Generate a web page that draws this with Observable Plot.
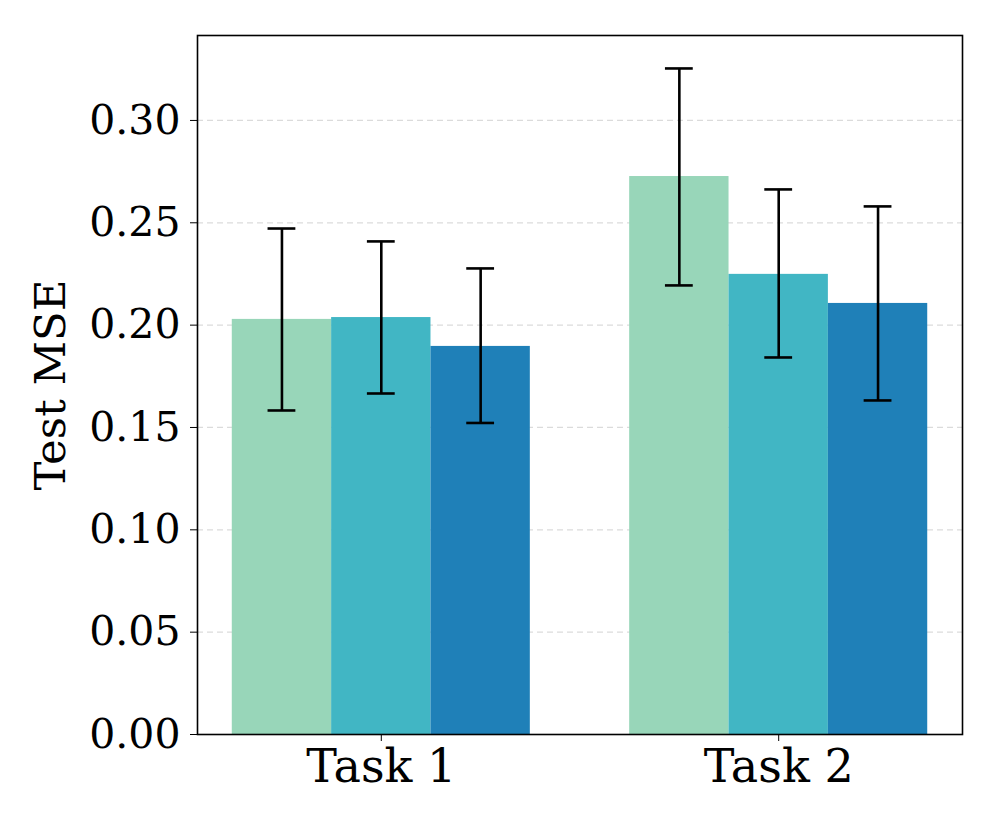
<!DOCTYPE html>
<html>
<head>
<meta charset="utf-8">
<script src="https://cdn.jsdelivr.net/npm/d3@7"></script>
<script src="https://cdn.jsdelivr.net/npm/@observablehq/plot@0.6"></script>
<style>
  html, body { margin: 0; padding: 0; background: white; }
  #chart svg { display: block; }
</style>
</head>
<body>
<div id="chart"></div>
<script>
const tasks = ["Task 1", "Task 2"];
const methods = ["Method A", "Method B", "Method C"];
const colors = ["#98d6b9", "#41b6c4", "#1f80b8"];
// mean test MSE per task (rows) and method (columns)
const means = [
  [0.2028, 0.2037, 0.1896],
  [0.2726, 0.2248, 0.2106]
];
// error bar lower / upper bounds
const lows = [
  [0.1583, 0.1666, 0.1522],
  [0.2194, 0.1842, 0.1632]
];
const highs = [
  [0.2472, 0.2409, 0.2277],
  [0.3254, 0.2663, 0.2580]
];
const yTicks = [0, 0.05, 0.10, 0.15, 0.20, 0.25, 0.30];

const barWidth = 0.25;
const capHalf = 0.035;
const rows = [];
tasks.forEach((t, ti) => methods.forEach((m, mi) => {
  rows.push({task: t, ti, method: m, mi, mean: means[ti][mi], lo: lows[ti][mi], hi: highs[ti][mi],
             xc: ti + (mi - 1) * barWidth});
}));

const chart = Plot.plot({
  width: 997,
  height: 830,
  marginLeft: 197,
  marginRight: 35,
  marginTop: 35,
  marginBottom: 96,
  style: {fontFamily: "DejaVu Serif", fontSize: "41px", background: "white", color: "black"},
  x: {domain: [-0.4625, 1.4625]},
  y: {domain: [0, 0.3415]},
  color: {domain: methods, range: colors},
  marks: [
    Plot.gridY(yTicks.slice(1), {stroke: "#cccccc", strokeOpacity: 0.7, strokeDasharray: "6,4", strokeWidth: 1.2}),
    Plot.rectY(rows, {x1: d => d.xc - barWidth / 2, x2: d => d.xc + barWidth / 2, y: "mean", fill: "method"}),
    Plot.ruleX(rows, {x: "xc", y1: "lo", y2: "hi", stroke: "black", strokeWidth: 2.6}),
    Plot.ruleY(rows, {y: "lo", x1: d => d.xc - capHalf, x2: d => d.xc + capHalf, stroke: "black", strokeWidth: 2.6}),
    Plot.ruleY(rows, {y: "hi", x1: d => d.xc - capHalf, x2: d => d.xc + capHalf, stroke: "black", strokeWidth: 2.6}),
    Plot.axisY({ticks: yTicks, tickFormat: d3.format(".2f"), tickSize: 7, tickPadding: 10, fontSize: 41, label: null}),
    Plot.axisY({ticks: [], tickSize: 0, label: "Test MSE", labelAnchor: "center", labelArrow: "none",
      labelOffset: 163, fontSize: 43.5}),
    Plot.axisX({ticks: [0, 1], tickFormat: i => tasks[i], tickSize: 7, tickPadding: 8, label: null, fontSize: 46}),
    Plot.frame({stroke: "black", strokeWidth: 1.6})
  ]
});
document.getElementById("chart").appendChild(chart);
</script>
</body>
</html>
